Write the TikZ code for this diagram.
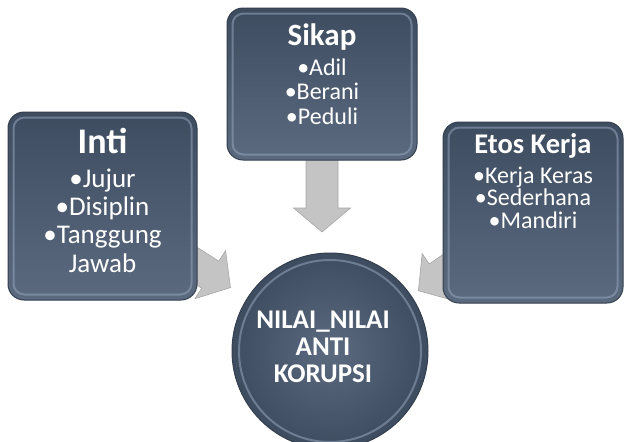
\documentclass[tikz,border=0pt]{standalone}
\usepackage{fontspec}
\setmainfont{Carlito}
\usetikzlibrary{calc,backgrounds}

\definecolor{slatetop}{HTML}{5B6A7F}
\definecolor{slatebot}{HTML}{3E4C60}
\definecolor{slaterim}{HTML}{93A4BB}
\definecolor{slateedge}{HTML}{343F4E}
\definecolor{arrowgray}{HTML}{C4C4C4}
\definecolor{arrowedge}{HTML}{A6A6A6}

\tikzset{
  % y runs downwards here, so the shading colours are swapped
  valuebox/.style={rounded corners=16pt, top color=slatebot, bottom color=slatetop,
    draw=slateedge, line width=1pt},
  centrebox/.style={circle, inner color=slatetop, outer color=slatebot,
    draw=slateedge, line width=1pt, minimum size=196pt, inner sep=0pt},
  rim/.style={draw=slaterim, line width=2pt, opacity=.55},
  blockarrow/.style={fill=arrowgray, draw=arrowedge, line width=.6pt, line join=miter},
  boxtext/.style={text=white, align=center, anchor=base, inner sep=0pt},
}

\begin{document}
\begin{tikzpicture}[x=1pt, y=-1pt]
  \useasboundingbox (0,0) rectangle (625,442);

  % the three groups and the centre
  \node[valuebox, minimum width=189pt, minimum height=188pt] (inti) at (102.5,206) {};
  \node[valuebox, minimum width=190pt, minimum height=152pt] (sikap) at (322,84) {};
  \node[valuebox, minimum width=180pt, minimum height=181pt] (etos) at (533,212.5) {};
  \node[centrebox] (nilai) at (330,351) {};

  \foreach \b in {inti, sikap, etos}
    \draw[rim, rounded corners=11pt] ($(\b.north west)+(6,6)$) rectangle ($(\b.south east)+(-6,-6)$);
  \draw[rim] (nilai.center) circle[radius=91pt];

  % texts (multi-line nodes sit on the baseline of their last line)
  \node[boxtext, font=\fontsize{36}{36}\selectfont\bfseries] (intiT) at (102.5,153) {Inti};
  \node[boxtext, font=\fontsize{27}{28.3}\selectfont] (intiL) at (102.5,272)
    {•Jujur\\•Disiplin\\•Tanggung\\Jawab};
  \node[boxtext, font=\fontsize{31}{31}\selectfont\bfseries] (sikapT) at (322,45) {Sikap};
  \node[boxtext, font=\fontsize{24}{24.5}\selectfont] (sikapL) at (322,124)
    {•Adil\\•Berani\\•Peduli};
  \node[boxtext, font=\fontsize{28.5}{29}\selectfont\bfseries] (etosT) at (533,153) {Etos Kerja};
  \node[boxtext, font=\fontsize{24}{22.5}\selectfont] (etosL) at (533,228)
    {•Kerja Keras\\•Sederhana\\•Mandiri};
  \node[boxtext, font=\fontsize{27}{27}\selectfont\bfseries] (nilaiT) at (323,382)
    {NILAI\_NILAI\\ANTI\\KORUPSI};

  % block arrows into the centre
  \begin{scope}[on background layer]
    \foreach \src/\dst/\gap in {inti/nilai.center/118, sikap/sikap.center |- nilai.center/119, etos/nilai.center/107}{
      \coordinate (aim) at (\dst);
      \coordinate (tip) at ($(aim)!\gap pt!(\src.center)$);
      \coordinate (neck) at ($(tip)!24pt!(\src.center)$);
      \filldraw[blockarrow] (tip) -- ($(neck)!28.5pt!90:(\src.center)$)
        -- ($(neck)!16pt!90:(\src.center)$) -- ($(\src.center)!16pt!-90:(tip)$)
        -- ($(\src.center)!16pt!90:(tip)$) -- ($(neck)!16pt!-90:(\src.center)$)
        -- ($(neck)!28.5pt!-90:(\src.center)$) -- cycle;
    }
  \end{scope}
\end{tikzpicture}
\end{document}
